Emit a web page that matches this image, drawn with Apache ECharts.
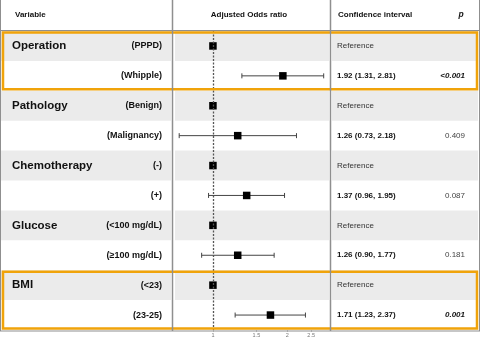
<!DOCTYPE html>
<html>
<head>
<meta charset="utf-8">
<script src="https://cdn.jsdelivr.net/npm/echarts@6/dist/echarts.min.js"></script>
<style>html,body{margin:0;padding:0;background:#fff}#c{width:480px;height:339px}</style>
</head>
<body>
<div id="c"></div>
<script>
const groups = ['Operation', 'Pathology', 'Chemotherapy', 'Glucose', 'BMI'];
const levels = ['(PPPD)', '(Whipple)', '(Benign)', '(Malignancy)', '(-)', '(+)', '(<100 mg/dL)', '(≥100 mg/dL)', '(<23)', '(23-25)'];
const oddsRatio = [1, 1.92, 1, 1.26, 1, 1.37, 1, 1.26, 1, 1.71];
const ciLower = [null, 1.31, null, 0.73, null, 0.96, null, 0.90, null, 1.23];
const ciUpper = [null, 2.81, null, 2.18, null, 1.95, null, 1.77, null, 2.37];
const ciLabels = ['Reference', '1.92 (1.31, 2.81)', 'Reference', '1.26 (0.73, 2.18)', 'Reference', '1.37 (0.96, 1.95)', 'Reference', '1.26 (0.90, 1.77)', 'Reference', '1.71 (1.23, 2.37)'];
const pValues = ['', '<0.001', '', '0.409', '', '0.087', '', '0.181', '', '0.001'];
const pSignificant = [false, true, false, false, false, false, false, false, false, true];
const highlightGroups = [true, false, false, false, true];
const xTicks = [1, 1.5, 2, 2.5];
const xRange = [0.689, 2.98];

const FONT = '"Liberation Sans", Arial, Helvetica, sans-serif';
const ORANGE = '#F0A30A';
const GREY_BG = '#ebebeb';
const LINE = '#8f8f8f';

const chart = echarts.init(document.getElementById('c'), null, {renderer: 'canvas'});

const rowIdx = levels.map((_, i) => i);
const tableData = rowIdx.map(i => [0, i]);
const pointData = oddsRatio.map((v, i) => [Math.log(v), i]);
const whiskerData = [];
oddsRatio.forEach((v, i) => {
  if (ciLower[i] != null) whiskerData.push([Math.log(ciLower[i]), Math.log(ciUpper[i]), i]);
});
const boxData = [];
highlightGroups.forEach((h, g) => { if (h) boxData.push([0, 2 * g, 2 * g + 1]); });

function renderRow(params, api) {
  const i = api.value(1);
  const c = api.coord([0, i]);
  const h = api.size([0, 1])[1];
  const y0 = c[1] - h / 2;
  const ch = [];
  if (i % 2 === 0) {
    ch.push({type: 'rect', shape: {x: 1, y: y0, width: 170, height: h}, style: {fill: GREY_BG}});
    ch.push({type: 'rect', shape: {x: 175, y: y0, width: 154, height: h}, style: {fill: GREY_BG}});
    ch.push({type: 'rect', shape: {x: 332, y: y0, width: 146, height: h}, style: {fill: GREY_BG}});
    ch.push({type: 'text', style: {x: 12, y: c[1], text: groups[i / 2], font: 'bold 11.5px ' + FONT, fill: '#111', verticalAlign: 'middle', align: 'left'}});
  }
  ch.push({type: 'text', style: {x: 162, y: c[1], text: levels[i], font: 'bold 9px ' + FONT, fill: '#111', verticalAlign: 'middle', align: 'right'}});
  const isRef = ciLabels[i] === 'Reference';
  ch.push({type: 'text', style: {x: 337, y: c[1], text: ciLabels[i], font: (isRef ? '' : 'bold ') + '8px ' + FONT, fill: isRef ? '#333' : '#111', verticalAlign: 'middle', align: 'left'}});
  if (pValues[i]) {
    ch.push({type: 'text', style: {x: 465, y: c[1], text: pValues[i], font: (pSignificant[i] ? 'italic bold ' : '') + '8px ' + FONT, fill: pSignificant[i] ? '#111' : '#444', verticalAlign: 'middle', align: 'right'}});
  }
  return {type: 'group', children: ch};
}

function renderWhisker(params, api) {
  const a = api.coord([api.value(0), api.value(2)]);
  const b = api.coord([api.value(1), api.value(2)]);
  const st = {stroke: '#444', lineWidth: 1};
  return {type: 'group', children: [
    {type: 'line', shape: {x1: a[0], y1: a[1], x2: b[0], y2: b[1]}, style: st},
    {type: 'line', shape: {x1: a[0], y1: a[1] - 2.5, x2: a[0], y2: a[1] + 2.5}, style: st},
    {type: 'line', shape: {x1: b[0], y1: b[1] - 2.5, x2: b[0], y2: b[1] + 2.5}, style: st}
  ]};
}

function renderBox(params, api) {
  const h = api.size([0, 1])[1];
  const top = api.coord([0, api.value(1)])[1] - h / 2;
  const bot = api.coord([0, api.value(2)])[1] + h / 2;
  return {type: 'rect', shape: {x: 3, y: top + 1.5, width: 474, height: bot - top - 3},
    style: {fill: 'none', stroke: ORANGE, lineWidth: 2.5}};
}

const option = {
  animation: false,
  backgroundColor: '#fff',
  grid: [
    {left: 0, right: 0, top: 31, height: 299, containLabel: false},
    {left: 173, width: 157, top: 31, height: 299, containLabel: false}
  ],
  xAxis: [
    {gridIndex: 0, type: 'value', min: 0, max: 480, show: false},
    {gridIndex: 1, type: 'value', min: Math.log(xRange[0]), max: Math.log(xRange[1]),
      axisLine: {show: false}, splitLine: {show: false},
      axisTick: {show: true, length: 2, customValues: xTicks.map(v => Math.log(v)), lineStyle: {color: '#999', width: 0.6}},
      axisLabel: {show: true, customValues: xTicks.map(v => Math.log(v)), margin: 2, fontSize: 5.5, color: '#777', fontFamily: FONT,
        formatter: v => String(Math.round(Math.exp(v) * 10) / 10)}}
  ],
  yAxis: [
    {gridIndex: 0, type: 'category', data: rowIdx, inverse: true, show: false},
    {gridIndex: 1, type: 'category', data: rowIdx, inverse: true, show: false}
  ],
  series: [
    {type: 'custom', xAxisIndex: 0, yAxisIndex: 0, data: tableData, renderItem: renderRow, z: 1, silent: true},
    {type: 'custom', xAxisIndex: 1, yAxisIndex: 1, data: whiskerData, renderItem: renderWhisker, z: 3, silent: true, clip: false},
    {type: 'scatter', xAxisIndex: 1, yAxisIndex: 1, data: pointData, symbol: 'rect', symbolSize: 7.5,
      itemStyle: {color: '#000', opacity: 1}, z: 4, silent: true,
      markLine: {silent: true, symbol: 'none', label: {show: false},
        lineStyle: {type: [2, 1.5], color: '#555', width: 1.3, opacity: 1}, data: [{xAxis: 0}]}},
    {type: 'custom', xAxisIndex: 0, yAxisIndex: 0, data: boxData, renderItem: renderBox, z: 5, silent: true}
  ],
  graphic: [
    {type: 'line', z: 10, shape: {x1: 0, y1: 30.5, x2: 480, y2: 30.5}, style: {stroke: LINE, lineWidth: 1}},
    {type: 'line', z: 10, shape: {x1: 0, y1: 331, x2: 480, y2: 331}, style: {stroke: LINE, lineWidth: 1}},
    {type: 'line', z: 10, shape: {x1: 0.5, y1: 0, x2: 0.5, y2: 331}, style: {stroke: LINE, lineWidth: 1}},
    {type: 'line', z: 10, shape: {x1: 479.5, y1: 0, x2: 479.5, y2: 331}, style: {stroke: LINE, lineWidth: 1}},
    {type: 'line', z: 10, shape: {x1: 172.5, y1: 0, x2: 172.5, y2: 331}, style: {stroke: LINE, lineWidth: 1.5}},
    {type: 'line', z: 10, shape: {x1: 330.5, y1: 0, x2: 330.5, y2: 331}, style: {stroke: LINE, lineWidth: 1.5}},
    {type: 'text', z: 10, style: {x: 15, y: 15, text: 'Variable', font: 'bold 8px ' + FONT, fill: '#111', verticalAlign: 'middle'}},
    {type: 'text', z: 10, style: {x: 249, y: 15, text: 'Adjusted Odds ratio', font: 'bold 8px ' + FONT, fill: '#111', verticalAlign: 'middle', align: 'center'}},
    {type: 'text', z: 10, style: {x: 338, y: 15, text: 'Confidence interval', font: 'bold 8px ' + FONT, fill: '#111', verticalAlign: 'middle'}},
    {type: 'text', z: 10, style: {x: 461, y: 15, text: 'p', font: 'italic bold 8.5px ' + FONT, fill: '#111', verticalAlign: 'middle', align: 'center'}}
  ]
};
chart.setOption(option);
</script>
</body>
</html>
